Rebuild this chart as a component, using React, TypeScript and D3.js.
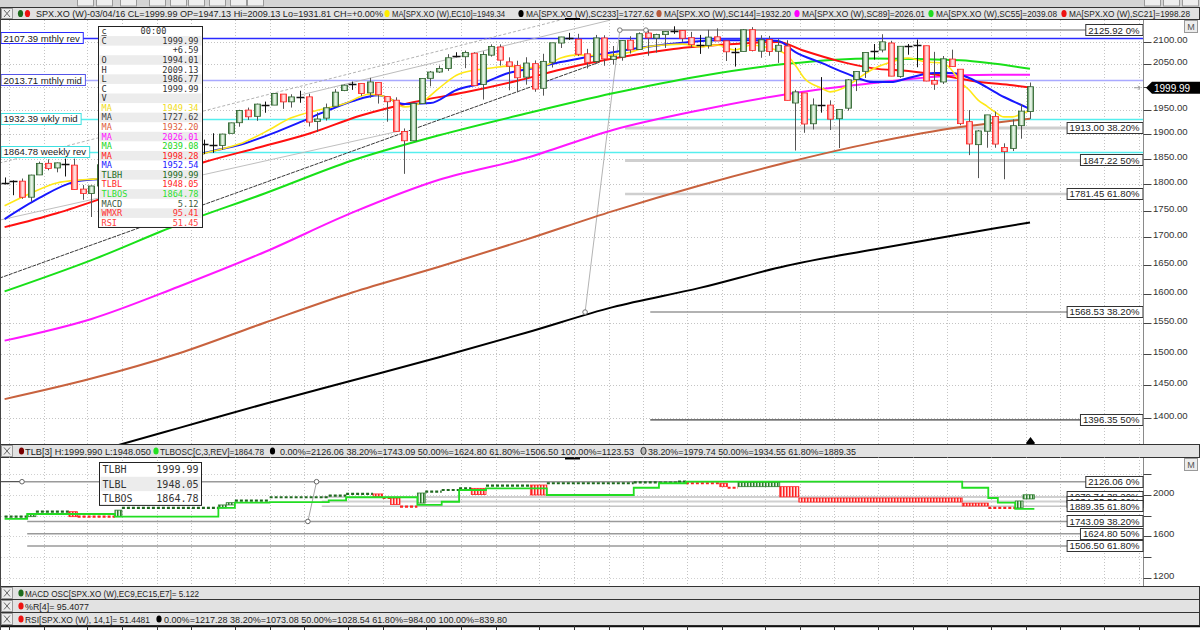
import { useEffect, useRef } from 'react';
import * as d3 from 'd3';

// Weekly SPX bars. Bar 0 = week ending Fri 2013-11-29, bar 118 = week ending 2016-03-04
const firstWeek = new Date(2013, 10, 29);

const opens = [
  1801.7, 1806.6, 1806.4, 1775.4, 1818.6, 1841.5, 1832.3, 1841.3, 1837.9, 1791.0,
  1782.7, 1797.0, 1838.8, 1836.8, 1857.7, 1878.3, 1842.8, 1867.7, 1859.0, 1865.8,
  1816.1, 1865.8, 1863.1, 1880.0, 1880.0, 1877.3, 1902.0, 1923.9, 1950.3, 1937.2,
  1962.9, 1960.8, 1984.2, 1967.7, 1976.9, 1978.3, 1926.3, 1933.4, 1958.4, 1991.7,
  2004.1, 2007.2, 1986.8, 2009.1, 1978.8, 1971.2, 1905.7, 1886.8, 1963.9, 2018.2,
  2032.0, 2039.7, 2065.1, 2065.8, 2073.6, 2005.0, 2069.3, 2087.6, 2054.4, 2046.1,
  2020.8, 2050.4, 1996.7, 2053.5, 2096.5, 2109.8, 2105.2, 2072.3, 2055.4, 2108.0,
  2060.0, 2064.9, 2102.9, 2082.1, 2119.3, 2107.7, 2115.6, 2121.3, 2125.3, 2108.6,
  2092.3, 2091.3, 2110.6, 2101.5, 2075.3, 2077.4, 2126.8, 2078.2, 2104.5, 2078.0,
  2089.7, 1965.2, 1986.7, 1921.7, 1963.1, 1960.8, 1932.2, 1954.3, 2015.7, 2033.5,
  2077.3, 2080.8, 2096.6, 2022.4, 2089.4, 2090.9, 2090.4, 2013.4, 2010.3, 2060.6,
  2038.2, 1926.1, 1878.9, 1906.3, 1936.9, 1873.3, 1871.4, 1917.8, 1947.13,
];
const highs = [
  1813.6, 1808.0, 1811.5, 1819.0, 1844.9, 1849.4, 1843.2, 1850.8, 1850.8, 1798.8,
  1798.0, 1841.7, 1847.5, 1867.9, 1883.6, 1883.1, 1883.9, 1875.9, 1897.3, 1872.4,
  1865.8, 1884.9, 1884.4, 1889.1, 1902.2, 1901.3, 1924.0, 1950.9, 1955.6, 1963.9,
  1968.2, 1985.6, 1984.2, 1983.9, 1991.4, 1984.9, 1945.2, 1964.0, 1994.8, 2005.0,
  2011.2, 2007.2, 2019.3, 2009.1, 1978.8, 1977.4, 1912.1, 1965.3, 2018.2, 2034.3,
  2046.2, 2071.5, 2075.8, 2079.5, 2075.8, 2077.9, 2093.6, 2093.6, 2064.4, 2056.9,
  2064.6, 2057.6, 2072.4, 2097.0, 2110.6, 2119.6, 2117.5, 2083.5, 2114.9, 2114.2,
  2089.8, 2102.6, 2111.9, 2120.9, 2125.9, 2117.7, 2123.9, 2134.7, 2126.2, 2121.9,
  2115.0, 2126.6, 2130.0, 2102.0, 2085.7, 2128.3, 2132.8, 2114.2, 2112.7, 2105.4,
  2102.9, 1993.5, 1986.7, 1975.0, 2020.9, 1970.9, 1951.4, 2016.5, 2033.5, 2075.1,
  2094.3, 2116.5, 2101.6, 2089.1, 2094.3, 2104.3, 2090.4, 2076.7, 2067.4, 2081.6,
  2038.2, 1950.3, 1908.9, 1940.2, 1947.2, 1881.6, 1930.7, 1962.96, 2009.13,
];
const lows = [
  1800.0, 1779.2, 1772.3, 1767.0, 1818.3, 1827.7, 1823.7, 1815.5, 1790.3, 1770.5,
  1737.9, 1791.8, 1824.6, 1836.8, 1834.4, 1839.5, 1839.5, 1842.1, 1857.6, 1814.4,
  1816.1, 1859.7, 1850.7, 1859.8, 1862.4, 1868.1, 1902.0, 1915.6, 1929.6, 1927.8,
  1944.7, 1960.8, 1952.9, 1955.6, 1965.8, 1916.1, 1904.8, 1928.3, 1958.4, 1990.5,
  1993.3, 1980.3, 1976.6, 1964.0, 1926.0, 1905.0, 1820.7, 1886.8, 1963.9, 2001.0,
  2030.2, 2034.5, 2064.5, 2040.5, 2002.3, 1972.6, 2066.1, 2046.0, 1992.4, 1988.1,
  2004.5, 1989.2, 1980.9, 2041.9, 2085.4, 2103.8, 2067.3, 2039.7, 2049.9, 2045.8,
  2048.4, 2057.0, 2072.9, 2082.1, 2067.9, 2074.9, 2085.5, 2117.5, 2099.2, 2085.7,
  2072.1, 2084.0, 2101.0, 2056.3, 2044.0, 2077.4, 2077.7, 2063.5, 2067.9, 2052.1,
  1970.9, 1867.0, 1903.1, 1910.0, 1944.9, 1908.8, 1872.0, 1949.1, 1990.7, 2018.9,
  2059.4, 2075.6, 2022.9, 2019.4, 2070.3, 2042.4, 2011.9, 1993.3, 2005.9, 2043.6,
  1918.5, 1857.8, 1812.3, 1872.7, 1872.7, 1810.1, 1866.0, 1891.0, 1931.81,
];
const closes = [
  1805.8, 1805.1, 1775.3, 1818.3, 1841.4, 1831.4, 1842.4, 1838.7, 1790.3, 1782.6,
  1797.0, 1838.6, 1836.3, 1859.5, 1878.0, 1841.1, 1866.5, 1857.6, 1865.1, 1815.7,
  1864.9, 1863.4, 1881.1, 1878.5, 1877.9, 1900.5, 1923.6, 1949.4, 1936.2, 1962.9,
  1961.0, 1985.4, 1967.6, 1978.2, 1978.3, 1925.2, 1931.6, 1955.1, 1988.4, 2003.4,
  2007.7, 1985.5, 2010.4, 1982.9, 1967.9, 1906.1, 1886.8, 1964.6, 2018.1, 2032.0,
  2039.8, 2063.5, 2067.6, 2075.4, 2002.3, 2070.7, 2088.8, 2058.2, 2044.8, 2019.4,
  2051.8, 1995.0, 2055.5, 2097.0, 2110.3, 2104.5, 2071.3, 2053.4, 2108.1, 2061.0,
  2067.0, 2102.1, 2081.2, 2117.7, 2108.3, 2116.1, 2122.7, 2126.1, 2107.4, 2092.8,
  2094.1, 2110.0, 2101.5, 2076.8, 2076.6, 2126.6, 2079.7, 2103.8, 2077.6, 2091.5,
  1970.9, 1988.9, 1921.2, 1961.1, 1958.0, 1931.3, 1951.4, 2014.9, 2033.1, 2075.2,
  2079.4, 2099.2, 2023.0, 2089.2, 2090.1, 2091.7, 2012.4, 2005.6, 2061.0, 2043.9,
  1922.0, 1880.3, 1906.9, 1940.2, 1880.1, 1864.8, 1917.8, 1948.1, 1999.99,
];

// moving averages, at bar indexes
const longIdx = [0, 10, 20, 30, 40, 50, 60, 70, 80, 90, 100, 110, 114, 118];
const sc233 = [1313, 1348, 1384, 1421, 1457, 1494, 1534, 1577, 1610, 1649, 1678, 1706, 1717, 1727.62];
const sc144 = [1428, 1460, 1500, 1551, 1602, 1647, 1696, 1749, 1798, 1843, 1883, 1915, 1924, 1932.2];
const sc89 = [1521, 1557, 1612, 1674, 1746, 1809, 1852, 1909, 1950, 1984, 2008, 2025, 2026, 2026.01];
const sc55 = [1604, 1659, 1724, 1783, 1847, 1898, 1943, 1986, 2023, 2050, 2062, 2058, 2050, 2039.08];

const sc21Idx = [0, 6, 11, 17, 23, 29, 35, 41, 47, 53, 59, 65, 71, 77, 83, 89, 92, 96, 100, 104, 108, 112, 116, 118];
const sc21 = [1719, 1745, 1772, 1808, 1844, 1872, 1901, 1939, 1967, 1988, 2013, 2042, 2065, 2083, 2093, 2099, 2079, 2056, 2040, 2034, 2024, 2011, 2003, 1998.28];

const blueIdx = [0, 4, 8, 12, 16, 20, 23, 27, 31, 34, 37, 40, 43, 46, 49, 52, 55, 58, 61, 64, 67, 70, 74, 78, 82, 86, 89, 91, 94, 97, 100, 102, 104, 107, 109, 111, 113, 115, 117, 118];
const blueMa = [1734, 1774, 1805, 1813, 1832, 1844, 1862, 1878, 1903, 1925, 1948, 1969, 1982, 1963, 1965, 1993, 2008, 2030, 2041, 2054, 2065, 2076, 2088, 2097, 2103, 2103, 2101, 2076, 2052, 2028, 2010, 2010, 2019, 2030, 2030, 2019, 1999, 1978, 1961, 1952.54];

const ec10Idx = [0, 3, 6, 9, 12, 15, 18, 21, 24, 27, 30, 33, 36, 39, 42, 44, 46, 48, 50, 52, 54, 56, 58, 60, 62, 64, 66, 68, 70, 72, 74, 76, 78, 80, 82, 84, 86, 88, 90, 91, 92, 94, 95, 97, 98, 100, 102, 104, 106, 108, 109, 110, 111, 112, 113, 114, 115, 116, 117, 118];
const ec10 = [1759, 1783, 1803, 1809, 1813, 1824, 1838, 1852, 1866, 1880, 1905, 1934, 1950, 1963, 1984, 1978, 1957, 1967, 1997, 2025, 2036, 2041, 2045, 2041, 2045, 2063, 2070, 2068, 2070, 2076, 2088, 2092, 2094, 2088, 2092, 2081, 2092, 2085, 2070, 2047, 2019, 1997, 1989, 2002, 2015, 2039, 2054, 2063, 2054, 2052, 2036, 2010, 1993, 1972, 1959, 1946, 1936, 1936, 1942, 1949.34];

// horizontal reference levels (price, label)
const levelPrices = [2107.39, 2013.71, 1932.39, 1864.78];
const levelLabels = ['2107.39 mthly rev', '2013.71 mthly mid', '1932.39 wkly mid', '1864.78 weekly rev'];

// fibonacci levels on the price panel: price, label, starting bar
const fibPrices = [2125.92, 1913.0, 1847.22, 1781.45, 1568.53, 1396.35];
const fibLabels = ['2125.92 0%', '1913.00 38.20%', '1847.22 50%', '1781.45 61.80%', '1568.53 38.20%', '1396.35 50%'];
const fibStart = [70.8, 71.4, 71.4, 71.4, 74.3, 74.3];
const fibAnchor: [number, number][] = [[70.8, 2125.92], [66.8, 1568.53]];

// trend lines: [bar, price] pairs
const trendBlack: [number, number][] = [[-0.6, 1627], [68.5, 2054]];
const trendGrey: [number, number][][] = [
  [[-0.6, 1842], [63.9, 2149]],
  [[34.0, 1982], [69.7, 2149]],
  [[-0.6, 1732], [45.5, 1907]],
];

// three line break panel: [from bar, to bar, high, low, kind]
const tlbBlocks: [number, number, number, number, string][] = [
  [0, 2.6, 1789, 1789, 'up'],
  [2.6, 3.6, 1815, 1789, 'upBrick'],
  [3.6, 7.4, 1837, 1837, 'up'],
  [7.4, 8.4, 1837, 1789, 'downBrick'],
  [8.4, 12.7, 1789, 1789, 'down'],
  [12.7, 13.5, 1852, 1789, 'upBrick'],
  [13.5, 24.6, 1873, 1873, 'up'],
  [24.6, 25.5, 1902, 1873, 'upBrick'],
  [25.5, 26.5, 1924, 1902, 'upBrick'],
  [26.5, 30.5, 1943, 1943, 'up'],
  [30.5, 37.3, 1976, 1976, 'up'],
  [37.3, 39.3, 1991, 1991, 'up'],
  [39.3, 42.4, 2008, 2008, 'up'],
  [42.4, 43.5, 2008, 1985, 'downBrick'],
  [43.5, 44.4, 1969, 1969, 'down'],
  [44.4, 45.5, 1969, 1906, 'downBrick'],
  [45.5, 47.5, 1886, 1886, 'down'],
  [47.5, 48.4, 2017, 1920, 'upBrick'],
  [48.4, 50.3, 2030, 2030, 'up'],
  [50.3, 52.3, 2046, 2046, 'up'],
  [52.3, 53.7, 2062, 2062, 'up'],
  [53.7, 55.4, 2062, 2002, 'downBrick'],
  [55.4, 60.5, 2088, 2088, 'up'],
  [60.5, 62.4, 2094, 1998, 'downBrick'],
  [62.4, 72.4, 2111, 2111, 'up'],
  [72.4, 75.3, 2120, 2120, 'up'],
  [75.3, 77.5, 2118, 2118, 'up'],
  [77.5, 78.4, 2126, 2126, 'up'],
  [78.4, 82.3, 2111, 2111, 'down'],
  [82.3, 83.2, 2111, 2078, 'downBrick'],
  [83.2, 84.4, 2068, 2068, 'down'],
  [84.4, 89.2, 2120, 2078, 'upBrick'],
  [89.2, 91.4, 2078, 1980, 'downBrick'],
  [91.4, 110.2, 1969, 1930, 'downBrick'],
  [110.2, 113.2, 1920, 1892, 'downBrick'],
  [113.2, 116.3, 1873, 1873, 'down'],
  [116.3, 117.2, 1940, 1873, 'upBrick'],
  [117.2, 118.5, 2000, 1960, 'upBrick'],
];
const tlbosFrom = [0, 2.6, 12.7, 24.6, 26.5, 30.5, 37.3, 39.3, 47.5, 50.3, 52.3, 55.4, 62.4, 72.4, 75.3, 78.4, 110.2, 113.2, 114.3, 116.3, 118.5];
const tlbosVal = [1767, 1815, 1789, 1873, 1924, 1930, 1947, 1976, 1902, 1933, 2046, 2062, 1998, 2068, 2111, 2126, 2068, 1969, 1924, 1865, 1865];

const tlbFibPrices = [2126.06, 1743.09, 1624.8, 1506.5, 1979.74, 1934.55, 1889.35];
const tlbFibLabels = ['2126.06 0%', '1743.09 38.20%', '1624.80 50%', '1506.50 61.80%', '1979.74 38.20%', '1934.55 50.00%', '1889.35 61.80%'];
const tlbFibStart = [2, 2.6, 2.6, 2.6, 36.5, 36.5, 36.5];

// legend box on price panel
const boxNames = ['c', 'C', '', 'O', 'H', 'L', 'C', 'V', 'MA', 'MA', 'MA', 'MA', 'MA', 'MA', 'MA', 'TLBH', 'TLBL', 'TLBOS', 'MACD', 'WMXR', 'RSI'];
const boxValues = ['00:00', '1999.99', '+6.59', '1994.01', '2009.13', '1986.77', '1999.99', '', '1949.34', '1727.62', '1932.20', '2026.01', '2039.08', '1998.28', '1952.54', '1999.99', '1948.05', '1864.78', '5.12', '95.41', '51.45'];
const tlbBoxNames = ['TLBH', 'TLBL', 'TLBOS'];
const tlbBoxValues = ['1999.99', '1948.05', '1864.78'];

const mainHeader = [
  'SPX.XO (W)-03/04/16 CL=1999.99 OP=1947.13 Hi=2009.13 Lo=1931.81 CH=+0.00%',
  'MA[SPX.XO (W),EC10]=1949.34',
  'MA[SPX.XO (W),SC233]=1727.62',
  'MA[SPX.XO (W),SC144]=1932.20',
  'MA[SPX.XO (W),SC89]=2026.01',
  'MA[SPX.XO (W),SC55]=2039.08',
  'MA[SPX.XO (W),SC21]=1998.28',
];
const tlbHeader = [
  'TLB[3] H:1999.990 L:1948.050',
  'TLBOSC[C,3,REV]=1864.78',
  '0.00%=2126.06 38.20%=1743.09 50.00%=1624.80 61.80%=1506.50 100.00%=1123.53',
  '38.20%=1979.74 50.00%=1934.55 61.80%=1889.35',
];
const stripHeaders = [
  ['MACD OSC[SPX.XO (W),EC9,EC15,E7]= 5.122'],
  ['%R[4]= 95.4077'],
  ['RSI[SPX.XO (W), 14,1]= 51.4481', '0.00%=1217.28 38.20%=1073.08 50.00%=1028.54 61.80%=984.00 100.00%=839.80'],
];

const FONT = 'Liberation Sans, Arial, sans-serif';
const MONO = 'DejaVu Sans Mono, monospace';

export default function App() {
  const svgRef = useRef<SVGSVGElement>(null);

  useEffect(() => {
    if (!svgRef.current) return;
    const svg = d3.select(svgRef.current);
    svg.selectAll('*').remove();

    const axisX = 1143.5;
    const xs = d3.scaleLinear().domain([0, 118]).range([4.6, 1030]);
    const ym = d3.scaleLog().domain([1400, 2100]).range([417.5, 41.5]);
    const yt = d3.scaleLinear().domain([1200, 2126.06]).range([577.8, 481.7]);

    svg.append('rect').attr('width', 1200).attr('height', 630).attr('fill', '#fff');

    const defs = svg.append('defs');
    const grad = (id: string, stops: [number, string][]) => {
      const lg = defs.append('linearGradient').attr('id', id)
        .attr('x1', 0).attr('x2', 1).attr('y1', 0).attr('y2', 0);
      stops.forEach(([o, c]) => lg.append('stop').attr('offset', o).attr('stop-color', c));
    };
    grad('gUp', [[0, '#2c6a2c'], [0.35, '#cfe9cf'], [0.6, '#f4fbf4'], [1, '#5a935a']]);
    grad('gDn', [[0, '#ff2a2a'], [0.35, '#ffc4c4'], [0.6, '#fff0f0'], [1, '#ff5a5a']]);
    const stripes = (id: string, c1: string, c2: string) => {
      const p = defs.append('pattern').attr('id', id)
        .attr('width', 3).attr('height', 6).attr('patternUnits', 'userSpaceOnUse');
      p.append('rect').attr('width', 3).attr('height', 6).attr('fill', c2);
      p.append('rect').attr('width', 1.5).attr('height', 6).attr('fill', c1);
    };
    stripes('pUp', '#2a7a2a', '#e4f4e4');
    stripes('pDn', '#ff2020', '#ffe0e0');
    defs.append('clipPath').attr('id', 'cMain').append('rect')
      .attr('x', 1).attr('y', 20).attr('width', axisX - 1).attr('height', 424);
    defs.append('clipPath').attr('id', 'cTlb').append('rect')
      .attr('x', 1).attr('y', 457.5).attr('width', axisX - 1).attr('height', 128.5);

    // month boundaries for the dotted vertical grid
    const weekDate = (i: number) => d3.timeDay.offset(firstWeek, 7 * i);
    const monthIdx = d3.range(1, 132).filter(i => weekDate(i).getMonth() !== weekDate(i - 1).getMonth());
    const monthX = monthIdx.map(i => Math.round(xs(i - 0.5)) + 0.5);

    // ---------- price panel ----------
    const gm = svg.append('g').attr('clip-path', 'url(#cMain)');

    gm.selectAll('line.vg').data(monthX).join('line')
      .attr('x1', d => d).attr('x2', d => d).attr('y1', 20).attr('y2', 444)
      .attr('stroke', '#c4c4c4').attr('stroke-dasharray', '1,2');
    const yTicks = d3.range(1400, 2101, 50);
    gm.selectAll('line.hg').data(yTicks).join('line')
      .attr('x1', 1).attr('x2', axisX)
      .attr('y1', d => Math.round(ym(d)) + 0.5).attr('y2', d => Math.round(ym(d)) + 0.5)
      .attr('stroke', '#c4c4c4').attr('stroke-dasharray', '1,2');

    // reference levels
    const levelColors = ['#2a2aff', '#a9a9ff', '#55eeee', '#55eeee'];
    levelPrices.forEach((p, k) => {
      gm.append('line').attr('x1', 1).attr('x2', axisX)
        .attr('y1', Math.round(ym(p)) + 0.5).attr('y2', Math.round(ym(p)) + 0.5)
        .attr('stroke', levelColors[k]).attr('stroke-width', 1.3);
    });

    // trend lines
    const seg = (pts: [number, number][], color: string, w: number, dash?: string) => {
      gm.append('line')
        .attr('x1', xs(pts[0][0])).attr('y1', ym(pts[0][1]))
        .attr('x2', xs(pts[1][0])).attr('y2', ym(pts[1][1]))
        .attr('stroke', color).attr('stroke-width', w)
        .attr('stroke-dasharray', dash || null);
    };
    seg(trendBlack, '#222', 0.9, '4,1');
    seg(trendGrey[0], '#aaa', 0.9, '3,2');
    seg(trendGrey[1], '#b4b4b4', 0.9);
    seg(trendGrey[2], '#b8b8b8', 0.9);

    // fib lines
    const fibStyle = [
      ['#999', 1.5], ['#cfcfcf', 3], ['#cfcfcf', 3], ['#cfcfcf', 2.5], ['#999', 1.5], ['#111', 1],
    ] as [string, number][];
    fibPrices.forEach((p, k) => {
      gm.append('line').attr('x1', xs(fibStart[k])).attr('x2', axisX)
        .attr('y1', ym(p)).attr('y2', ym(p))
        .attr('stroke', fibStyle[k][0]).attr('stroke-width', fibStyle[k][1]);
    });
    seg(fibAnchor, '#aaa', 0.9);

    // moving averages
    const maLine = (idx: number[], vals: number[], color: string, w: number) => {
      gm.append('path').datum(vals)
        .attr('d', d3.line<number>().x((_, k) => xs(idx[k])).y(v => ym(v)).curve(d3.curveMonotoneX))
        .attr('fill', 'none').attr('stroke', color).attr('stroke-width', w);
    };
    maLine(longIdx, sc233, '#000', 2);
    maLine(longIdx, sc144, '#c8623e', 2);
    maLine(longIdx, sc89, '#ff18ff', 2);
    maLine(longIdx, sc55, '#18e018', 2);
    maLine(sc21Idx, sc21, '#ff1010', 2);
    maLine(blueIdx, blueMa, '#1818ff', 2);
    maLine(ec10Idx, ec10, '#ffe818', 1.6);

    // candles
    const bw = 6;
    opens.forEach((o, i) => {
      const c = closes[i];
      const x = Math.round(xs(i)) + 0.5;
      const yo = ym(o), yc = ym(c);
      if (Math.abs(yo - yc) < 2.5) {
        gm.append('line').attr('x1', x).attr('x2', x).attr('y1', ym(highs[i])).attr('y2', ym(lows[i]))
          .attr('stroke', '#111').attr('stroke-width', 1);
        const ymid = Math.round((yo + yc) / 2) + 0.5;
        gm.append('line').attr('x1', x - 4).attr('x2', x + 4).attr('y1', ymid).attr('y2', ymid)
          .attr('stroke', '#111').attr('stroke-width', 1.6);
      } else {
        const up = c > o;
        gm.append('line').attr('x1', x).attr('x2', x).attr('y1', ym(highs[i])).attr('y2', ym(lows[i]))
          .attr('stroke', '#555').attr('stroke-width', 1);
        gm.append('rect').attr('x', x - bw / 2).attr('y', Math.min(yo, yc))
          .attr('width', bw).attr('height', Math.abs(yo - yc))
          .attr('fill', up ? 'url(#gUp)' : 'url(#gDn)')
          .attr('stroke', up ? '#2a5f2a' : '#ff2020').attr('stroke-width', 0.8);
      }
    });

    // small markers
    gm.append('circle').attr('cx', xs(fibAnchor[0][0])).attr('cy', ym(fibAnchor[0][1])).attr('r', 2.3)
      .attr('fill', '#fff').attr('stroke', '#777');
    gm.append('circle').attr('cx', xs(fibAnchor[1][0])).attr('cy', ym(fibAnchor[1][1])).attr('r', 2.3)
      .attr('fill', '#fff').attr('stroke', '#777');
    gm.append('circle').attr('cx', xs(73.8)).attr('cy', ym(2125.92)).attr('r', 2.3)
      .attr('fill', '#fff').attr('stroke', '#777');
    gm.append('path').attr('d', `M${xs(118) - 4},443 L${xs(118) + 0.5},437 L${xs(118) + 5},443 Z`).attr('fill', '#000');

    // label box helper
    const boxLabel = (parent: any, x: number, yc: number, text: string, stroke: string, anchor: string) => {
      const g = parent.append('g');
      const rect = g.append('rect');
      const t = g.append('text').attr('y', yc + 3.4).attr('font-size', 9.6)
        .attr('font-family', FONT).attr('fill', '#222').text(text);
      const w = (t.node() as SVGTextElement).getComputedTextLength() + 6;
      const x0 = anchor === 'start' ? x : x - w;
      t.attr('x', x0 + 3);
      rect.attr('x', x0 + 0.5).attr('y', Math.round(yc) - 5.5).attr('width', w).attr('height', 11)
        .attr('fill', '#fff').attr('stroke', stroke);
    };
    const levelBoxColors = ['#2a2aff', '#5555e8', '#3ee0e0', '#3ee0e0'];
    levelPrices.forEach((p, k) => boxLabel(svg, 0.5, ym(p), levelLabels[k], levelBoxColors[k], 'start'));
    fibPrices.forEach((p, k) => boxLabel(svg, axisX - 1, ym(p), fibLabels[k], '#333', 'end'));

    // legend box
    const bx = 98.5, by = 26.5, rh = 9.57, bwid = 104;
    const boxColors = ['#333', '#333', '#333', '#333', '#333', '#333', '#333', '#333',
      '#f0dc20', '#444', '#e0603c', '#ff10ff', '#22d822', '#ff2020', '#2020ff',
      '#1e6a1e', '#ff2828', '#30e030', '#3c5a3c', '#ff3030', '#ff4040'];
    const db = svg.append('g');
    db.append('rect').attr('x', bx).attr('y', by).attr('width', bwid).attr('height', rh * boxNames.length)
      .attr('fill', '#fff').attr('stroke', '#222');
    boxNames.forEach((nm, k) => {
      const ry = by + k * rh;
      if (k % 2 === 1) {
        db.append('rect').attr('x', bx + 1).attr('y', ry).attr('width', bwid - 2).attr('height', rh).attr('fill', '#ececec');
      }
      db.append('text').attr('x', bx + 3).attr('y', ry + 7.8).attr('font-family', MONO).attr('font-size', 8.6)
        .attr('fill', boxColors[k]).attr('text-decoration', k === 0 ? 'underline' : null).text(nm);
      db.append('text').attr('x', k === 0 ? bx + 55 : bx + bwid - 4).attr('y', ry + 7.8)
        .attr('text-anchor', k === 0 ? 'middle' : 'end')
        .attr('font-family', MONO).attr('font-size', 8.6).attr('fill', boxColors[k]).text(boxValues[k]);
    });

    // ---------- right axis ----------
    const yLast = ym(closes[118]);
    svg.append('line').attr('x1', axisX).attr('x2', axisX).attr('y1', 19).attr('y2', 626).attr('stroke', '#8a8a8a');
    yTicks.forEach(v => {
      const y = Math.round(ym(v)) + 0.5;
      svg.append('line').attr('x1', axisX).attr('x2', axisX + 8).attr('y1', y).attr('y2', y).attr('stroke', '#444');
      // the last-price tag hides the label it sits on
      if (Math.abs(y - yLast) < 8) return;
      svg.append('text').attr('x', 1153).attr('y', y + 0.5).attr('font-family', FONT).attr('font-size', 9.6)
        .attr('fill', '#333').text(d3.format('.2f')(v));
    });
    svg.append('path').attr('d', `M1146,${yLast + 1} L1152,${yLast - 5} L1200,${yLast - 5} L1200,${yLast + 7} L1152,${yLast + 7} Z`)
      .attr('fill', '#000');
    svg.append('text').attr('x', 1154).attr('y', yLast + 5).attr('font-family', FONT).attr('font-size', 10)
      .attr('fill', '#fff').text('1999.99');
    svg.append('path').attr('d', `M1134,${yLast + 1} L1140,${yLast + 1} M1138,${yLast - 1} L1140,${yLast + 1} L1138,${yLast + 3}`)
      .attr('stroke', '#999').attr('fill', 'none');

    // ---------- header bars ----------
    const bar = (y0: number, y1: number) => {
      svg.append('rect').attr('x', 0.5).attr('y', y0).attr('width', 1199).attr('height', y1 - y0)
        .attr('fill', '#e2e2e2').attr('stroke', '#333');
      svg.append('rect').attr('x', 1.5).attr('y', y0 + 1).attr('width', 11).attr('height', y1 - y0 - 2)
        .attr('fill', '#ececec').attr('stroke', '#999');
      const cy = (y0 + y1) / 2;
      svg.append('path').attr('d', `M4,${cy - 3.5} L10,${cy + 3.5} M10,${cy - 3.5} L4,${cy + 3.5}`)
        .attr('stroke', '#666');
    };
    const dot = (cx: number, cy: number, color: string, stroke?: string) => {
      svg.append('ellipse').attr('cx', cx).attr('cy', cy).attr('rx', 2.6).attr('ry', 3.6)
        .attr('fill', color).attr('stroke', stroke || null);
    };
    const hText = (x: number, y: number, s: string, len: number) => {
      svg.append('text').attr('x', x).attr('y', y).attr('font-family', FONT).attr('font-size', 9.2)
        .attr('fill', '#222').attr('textLength', len).attr('lengthAdjust', 'spacingAndGlyphs').text(s);
    };

    // toolbar strip
    svg.append('rect').attr('x', 0).attr('y', 0).attr('width', 1200).attr('height', 7.5).attr('fill', '#d4d4d4');
    [77, 96, 120, 149, 170, 188, 209, 230, 247, 1144, 1163, 1182].forEach(bxp => {
      svg.append('rect').attr('x', bxp + 0.5).attr('y', -1).attr('width', 16).attr('height', 7)
        .attr('fill', '#eeeeee').attr('stroke', '#9a9a9a');
    });

    bar(7.5, 19.5);
    dot(20.5, 13.5, '#1d6b1d');
    dot(27.5, 13.5, '#ee1111');
    const mh = [
      [36, 347, null], [392, 113, '#ffee00'], [526, 128, '#000'], [664, 127, '#b85a3a'],
      [802, 123, '#ff00ff'], [936, 121, '#20dd20'], [1069, 121, '#ee1111'],
    ] as [number, number, string | null][];
    mainHeader.forEach((s, k) => {
      if (mh[k][2]) dot(mh[k][0] - 5, 13.5, mh[k][2] as string);
      hText(mh[k][0], 17, s, mh[k][1]);
    });

    // black marker bar at panel top
    svg.append('rect').attr('x', 565).attr('y', 18).attr('width', 15).attr('height', 2).attr('fill', '#000');

    // "M" buttons
    const mBtn = (y: number) => {
      svg.append('rect').attr('x', 1184.5).attr('y', y).attr('width', 13).attr('height', 12)
        .attr('fill', '#ececec').attr('stroke', '#999');
      svg.append('text').attr('x', 1191).attr('y', y + 9.5).attr('text-anchor', 'middle')
        .attr('font-family', FONT).attr('font-size', 9).attr('fill', '#555').text('M');
    };
    mBtn(20.5);

    // ---------- TLB panel ----------
    bar(444.5, 457.5);
    dot(21.5, 451, '#7a0000');
    dot(156, 451, '#22e022');
    dot(272.5, 451, '#000');
    dot(643.5, 451, '#bbb', '#333');
    const th = [[25, 126], [160, 104], [280, 354], [648, 208]];
    tlbHeader.forEach((s, k) => hText(th[k][0], 454.5, s, th[k][1]));
    svg.append('rect').attr('x', 565).attr('y', 457.5).attr('width', 15).attr('height', 2).attr('fill', '#000');
    svg.append('path').attr('d', `M${xs(118) - 4},444 L${xs(118) + 0.5},438.5 L${xs(118) + 5},444 Z`).attr('fill', '#000');
    mBtn(458.5);

    const gt = svg.append('g').attr('clip-path', 'url(#cTlb)');
    gt.selectAll('line.vg').data(monthX).join('line')
      .attr('x1', d => d).attr('x2', d => d).attr('y1', 457).attr('y2', 586)
      .attr('stroke', '#c4c4c4').attr('stroke-dasharray', '1,2');
    const tTicks = d3.range(1200, 2201, 200);
    gt.selectAll('line.hg').data(tTicks).join('line')
      .attr('x1', 1).attr('x2', axisX)
      .attr('y1', d => Math.round(yt(d)) + 0.5).attr('y2', d => Math.round(yt(d)) + 0.5)
      .attr('stroke', '#d0d0d0').attr('stroke-dasharray', '1,2');

    const tfStyle = [['#9a9a9a', 1.5], ['#9a9a9a', 1.5], ['#9a9a9a', 1.5], ['#9a9a9a', 1.5],
      ['#d0d0d0', 2], ['#d0d0d0', 2], ['#c4c4c4', 1.5]] as [string, number][];
    tlbFibPrices.forEach((p, k) => {
      gt.append('line').attr('x1', xs(tlbFibStart[k])).attr('x2', axisX)
        .attr('y1', yt(p)).attr('y2', yt(p))
        .attr('stroke', tfStyle[k][0]).attr('stroke-width', tfStyle[k][1]);
    });
    gt.append('line').attr('x1', 1).attr('x2', xs(2)).attr('y1', yt(2126.06)).attr('y2', yt(2126.06))
      .attr('stroke', '#555').attr('stroke-width', 1.2);
    gt.append('line').attr('x1', xs(34.9)).attr('y1', yt(1743.09)).attr('x2', xs(35.9)).attr('y2', yt(2126.06))
      .attr('stroke', '#999').attr('stroke-width', 0.9);

    tlbBlocks.forEach(([f, t, hi, lo, kind]) => {
      const x0 = xs(f), x1 = xs(t);
      if (kind === 'up' || kind === 'down') {
        const yv = yt(kind === 'up' ? hi : lo);
        gt.append('line').attr('x1', x0).attr('x2', x1).attr('y1', yv).attr('y2', yv)
          .attr('stroke', kind === 'up' ? '#1f6a1f' : '#ff2020').attr('stroke-width', 2.2)
          .attr('stroke-dasharray', '3,2');
      } else {
        const y0 = yt(hi), y1 = yt(lo);
        gt.append('rect').attr('x', x0).attr('y', y0).attr('width', x1 - x0).attr('height', Math.max(2, y1 - y0))
          .attr('fill', kind === 'upBrick' ? 'url(#pUp)' : 'url(#pDn)')
          .attr('stroke', kind === 'upBrick' ? '#2a7a2a' : '#ff2020').attr('stroke-width', 0.8);
      }
    });
    gt.append('path').datum(tlbosVal)
      .attr('d', d3.line<number>().x((_, k) => xs(tlbosFrom[k])).y(v => yt(v)).curve(d3.curveStepAfter))
      .attr('fill', 'none').attr('stroke', '#22dd22').attr('stroke-width', 1.8);

    [[2, 2126.06], [34.9, 1743.09], [35.9, 2126.06]].forEach(([i, v]) => {
      gt.append('circle').attr('cx', xs(i)).attr('cy', yt(v)).attr('r', 2.3).attr('fill', '#fff').attr('stroke', '#666');
    });

    tlbFibPrices.forEach((p, k) => boxLabel(svg, axisX - 1, yt(p), tlbFibLabels[k], '#333', 'end'));

    tTicks.forEach(v => {
      const y = Math.round(yt(v)) + 0.5;
      svg.append('line').attr('x1', axisX).attr('x2', axisX + 8).attr('y1', y).attr('y2', y).attr('stroke', '#444');
      if (v % 400 === 0) {
        svg.append('text').attr('x', 1153).attr('y', y + 0.5).attr('font-family', FONT).attr('font-size', 9.6)
          .attr('fill', '#333').text(String(v));
      }
    });

    // TLB legend box
    const tbx = 99.5, tby = 462.5, trh = 14.3;
    svg.append('rect').attr('x', tbx).attr('y', tby).attr('width', 102).attr('height', trh * 3)
      .attr('fill', '#fff').attr('stroke', '#222');
    tlbBoxNames.forEach((nm, k) => {
      const ry = tby + k * trh;
      if (k === 1) svg.append('rect').attr('x', tbx + 1).attr('y', ry).attr('width', 100).attr('height', trh).attr('fill', '#ececec');
      svg.append('text').attr('x', tbx + 3).attr('y', ry + 10.8).attr('font-family', MONO).attr('font-size', 10)
        .attr('fill', '#333').text(nm);
      svg.append('text').attr('x', tbx + 99).attr('y', ry + 10.8).attr('text-anchor', 'end')
        .attr('font-family', MONO).attr('font-size', 10).attr('fill', '#333').text(tlbBoxValues[k]);
    });

    // ---------- bottom strips ----------
    bar(586.5, 599.5);
    dot(21, 593, '#1d6b1d');
    hText(25, 596.5, stripHeaders[0][0], 174);
    bar(599.5, 612.5);
    dot(21, 606, '#ee1111');
    hText(25, 609.5, stripHeaders[1][0], 64);
    bar(612.5, 625.5);
    dot(21, 619, '#ee1111');
    hText(25, 622.5, stripHeaders[2][0], 125);
    dot(159, 619, '#000');
    hText(164, 622.5, stripHeaders[2][1], 343);

    // time axis row
    svg.append('line').attr('x1', 0).attr('x2', 1200).attr('y1', 626.5).attr('y2', 626.5)
      .attr('stroke', '#111').attr('stroke-width', 1.5);
    monthX.forEach(x => {
      svg.append('line').attr('x1', x).attr('x2', x).attr('y1', 626).attr('y2', 630).attr('stroke', '#333');
    });

    // left frame
    svg.append('line').attr('x1', 0.5).attr('x2', 0.5).attr('y1', 7).attr('y2', 630).attr('stroke', '#444');
  }, []);

  return (
    <svg
      ref={svgRef}
      width={1200}
      height={630}
      style={{ position: 'fixed', left: 0, top: 0, display: 'block' }}
    />
  );
}
